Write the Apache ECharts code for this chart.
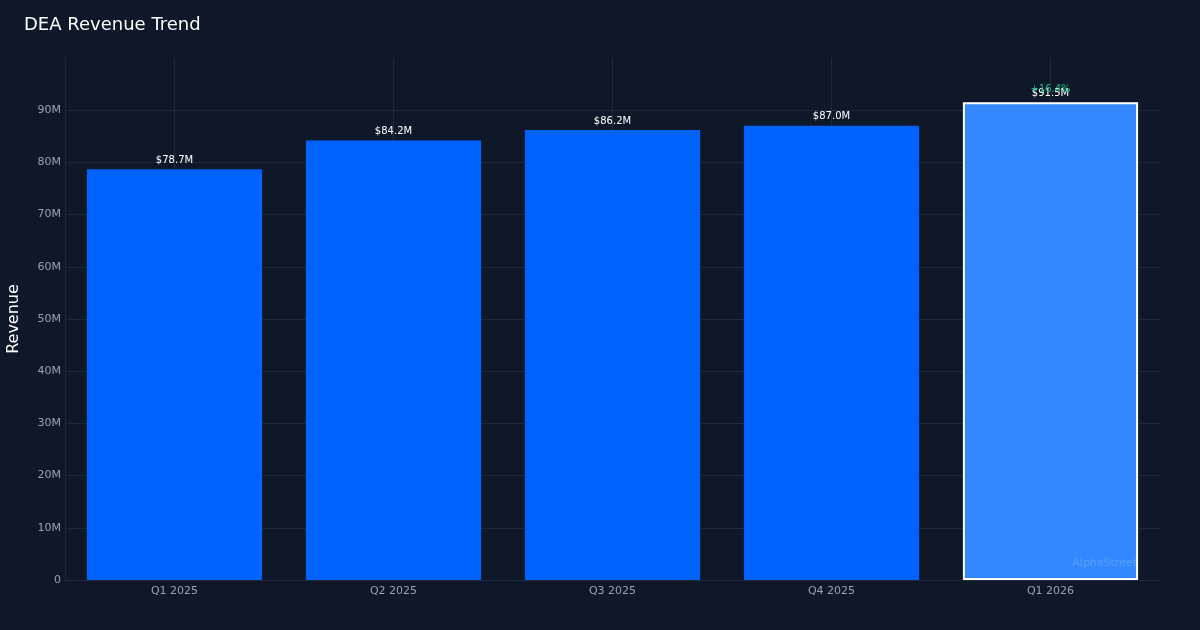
<!DOCTYPE html>
<html><head><meta charset="utf-8">
<script src="https://cdn.jsdelivr.net/npm/echarts@6/dist/echarts.min.js"></script>
<style>html,body{margin:0;padding:0;background:#0f1828;}#c{width:1200px;height:630px;}</style>
</head><body><div id="c"></div>
<script>
const categories = ['Q1 2025','Q2 2025','Q3 2025','Q4 2025','Q1 2026'];
const revenue = [78.7e6, 84.2e6, 86.2e6, 87.0e6, 91.5e6];
const valueLabels = ['$78.7M','$84.2M','$86.2M','$87.0M','$91.5M'];
const growthLabel = '+16.4%';

const chart = echarts.init(document.getElementById('c'));
const last = categories.length - 1;
const helperCats = [];
categories.forEach(c => { helperCats.push(c + ' a'); helperCats.push(c + ' b'); });

chart.setOption({
  backgroundColor: '#0f1828',
  animation: false,
  title: { text: 'DEA Revenue Trend', left: 19, top: 11, textStyle: { color: '#ffffff', fontSize: 18, fontWeight: 'normal', fontFamily: 'DejaVu Sans' } },
  grid: { left: 65, right: 40, top: 58, bottom: 50, containLabel: false, outerBoundsMode: 'none' },
  xAxis: [{
    type: 'category', data: categories,
    axisLine: { show: true, lineStyle: { color: '#1e293b' } },
    axisTick: { show: false },
    axisLabel: { color: '#94a3b8', fontSize: 11, fontFamily: 'DejaVu Sans', margin: 6 },
    splitLine: { show: false }
  }, {
    type: 'category', data: helperCats, position: 'bottom',
    axisLine: { show: false }, axisTick: { show: false }, axisLabel: { show: false },
    splitLine: { show: true, showMaxLine: false, interval: (i) => i % 2 === 1, lineStyle: { color: '#1e293b', width: 1 } }
  }],
  yAxis: {
    type: 'value', min: 0, max: 100e6, interval: 10e6,
    name: 'Revenue', nameLocation: 'middle', nameGap: 43, nameRotate: 90,
    nameTextStyle: { color: '#ffffff', fontSize: 16, fontFamily: 'DejaVu Sans' },
    axisLine: { show: true, lineStyle: { color: '#1e293b' } },
    axisTick: { show: false },
    axisLabel: { color: '#94a3b8', fontSize: 11, fontFamily: 'DejaVu Sans', margin: 4,
      formatter: v => v >= 100e6 ? '' : (v === 0 ? '0' : (v / 1e6) + 'M') },
    splitLine: { show: true, showMaxLine: false, lineStyle: { color: '#1e293b', width: 1 } }
  },
  series: [{
    type: 'bar', xAxisIndex: 0, barWidth: '80%',
    data: revenue.map((v, i) => ({
      value: v,
      itemStyle: i === last ? { color: '#3388ff', borderColor: '#ffffff', borderWidth: 2 } : { color: '#0062ff' }
    })),
    label: { show: true, position: 'top', distance: 4, color: '#ffffff', fontSize: 10, fontFamily: 'DejaVu Sans',
      formatter: p => valueLabels[p.dataIndex] },
    markPoint: {
      symbol: 'circle', symbolSize: 0,
      data: [{ coord: [categories[last], revenue[last]] }],
      label: { show: true, formatter: growthLabel, color: '#10b981', fontSize: 10, fontFamily: 'DejaVu Sans', offset: [0, -13] }
    }
  }],
  graphic: [{
    type: 'text', right: 63, bottom: 61, z: 100,
    style: { text: 'AlphaStreet', fill: 'rgba(255,255,255,0.18)', fontSize: 11, fontFamily: 'DejaVu Sans' }
  }]
});
</script></body></html>
